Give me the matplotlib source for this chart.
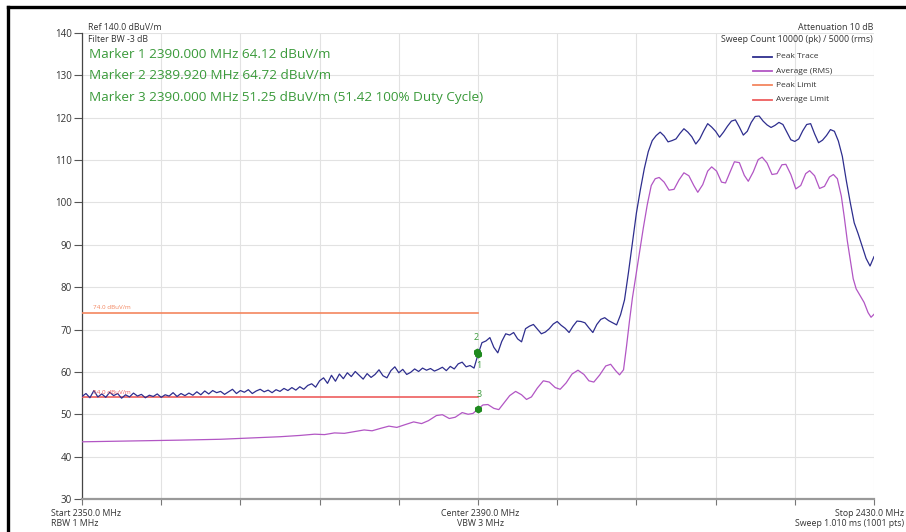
import matplotlib.pyplot as plt
import numpy as np

# peak trace, read every 0.4 MHz from 2350 to 2430
peak_level = [
    54.2, 54.9, 53.9, 55.6, 54.1, 54.8, 54.0, 55.2, 54.4, 54.9,
    53.8, 54.6, 54.1, 55.0, 54.3, 54.7, 53.9, 54.5, 54.2, 54.8,
    54.0, 54.6, 54.3, 55.1, 54.2, 54.9, 54.4, 55.0, 54.5, 55.3,
    54.6, 55.5, 54.8, 55.6, 55.1, 55.4, 54.7, 55.3,
    55.9, 54.9, 55.6, 55.2, 55.8, 54.9, 55.5, 55.9, 55.3, 55.7,
    55.1, 55.8, 55.4, 56.1, 55.6, 56.3, 55.7, 56.5, 55.9, 56.8,
    57.2, 56.4, 57.9, 58.6, 57.3, 59.2, 57.8, 59.5, 58.4, 59.8,
    58.9, 60.1, 59.2, 58.3, 59.6, 58.7, 59.4, 60.5, 59.1, 58.6,
    60.3, 61.2, 59.8, 60.6, 59.4, 59.9, 60.7, 60.1, 60.9, 60.4,
    60.8, 60.2, 60.6, 61.1, 60.3, 61.3, 60.7, 61.9, 62.3, 61.2,
    61.5, 60.9, 64.1, 66.9, 67.3, 68.1, 65.8, 64.5, 67.2, 69.0,
    68.7, 69.3, 67.8, 67.1, 70.2, 70.8, 71.2, 70.1, 69.0, 69.4,
    70.2, 71.3, 71.9, 71.0, 70.3, 69.3, 70.8, 72.0, 71.9, 71.6,
    70.4, 69.3, 71.2, 72.4, 72.8, 72.1, 71.6, 71.1, 73.5, 77.0,
    83.5, 90.5, 97.5, 103.0, 108.0, 112.0, 114.6, 115.8, 116.6, 115.7,
    114.3, 114.6, 115.0, 116.3, 117.4, 116.6, 115.5, 113.8, 115.0, 116.9,
    118.6, 117.8, 116.8, 115.4, 116.6, 118.0, 119.2, 119.5, 117.8, 115.9,
    116.8, 118.9, 120.3, 120.4, 119.2, 118.3, 117.7, 118.2, 118.9, 118.4,
    116.6, 114.8, 114.4, 115.0, 116.9, 118.4, 118.6, 116.2, 114.1, 114.7,
    115.8, 117.2, 116.8, 114.5, 110.9, 105.2, 100.0, 95.2, 92.6, 89.7,
    86.8, 85.0, 87.2,
]
peak_freq = np.linspace(2350, 2430, len(peak_level))

avg_freq = [
    2350.0, 2355.0, 2360.0, 2364.0, 2367.0, 2370.0, 2372.0, 2373.5, 2374.5, 2375.5,
    2376.5, 2377.5, 2378.5, 2379.3, 2380.2, 2381.0, 2381.8, 2382.7, 2383.5, 2384.3,
    2385.0, 2385.8, 2386.4, 2387.1, 2387.7, 2388.4, 2389.0, 2389.5, 2390.0, 2390.5,
    2391.0, 2391.6, 2392.1, 2392.6, 2393.2, 2393.8, 2394.4, 2394.9, 2395.4, 2396.0,
    2396.6, 2397.2, 2397.8, 2398.3, 2398.9, 2399.5, 2400.1, 2400.7, 2401.2, 2401.7,
    2402.3, 2402.9, 2403.4, 2403.9, 2404.3, 2404.7, 2405.0, 2405.3, 2405.6, 2405.9,
    2406.3, 2406.7, 2407.1, 2407.5, 2407.9, 2408.3, 2408.8, 2409.3, 2409.8, 2410.3,
    2410.8, 2411.3, 2411.8, 2412.2, 2412.7, 2413.2, 2413.6, 2414.1, 2414.6, 2415.0,
    2415.5, 2415.9, 2416.4, 2416.9, 2417.3, 2417.8, 2418.3, 2418.7, 2419.2, 2419.7,
    2420.2, 2420.7, 2421.1, 2421.6, 2422.1, 2422.6, 2423.1, 2423.5, 2424.0, 2424.5,
    2425.0, 2425.5, 2425.9, 2426.3, 2426.7, 2427.0, 2427.3, 2427.6, 2427.9, 2428.2,
    2428.6, 2429.0, 2429.4, 2429.7, 2430.0,
]
avg_level = [
    43.5, 43.7, 43.9, 44.1, 44.4, 44.7, 45.0, 45.3, 45.2, 45.6,
    45.5, 45.9, 46.3, 46.1, 46.7, 47.2, 46.9, 47.6, 48.2, 47.8,
    48.5, 49.7, 49.9, 49.0, 49.3, 50.4, 50.0, 50.2, 51.25, 52.2,
    52.3, 51.4, 51.1, 52.6, 54.4, 55.4, 54.6, 53.5, 54.1, 56.2,
    57.9, 57.6, 56.3, 55.9, 57.4, 59.5, 60.4, 59.4, 57.9, 57.6,
    59.3, 61.4, 61.8, 60.3, 59.3, 60.5, 66.0, 72.0, 77.5, 82.0,
    88.0, 94.0, 99.5, 104.0, 105.6, 105.9, 104.8, 102.9, 103.1, 105.3,
    107.0, 106.3, 104.0, 102.4, 104.2, 107.4, 108.4, 107.4, 104.8, 104.6,
    107.4, 109.6, 109.4, 106.4, 105.0, 107.2, 110.1, 110.7, 109.3, 106.6,
    106.8, 108.9, 109.0, 106.6, 103.2, 104.0, 106.8, 107.5, 106.3, 103.3,
    103.8, 106.0, 106.6, 105.6, 101.5, 96.5, 91.0, 86.5, 82.0, 79.6,
    78.0, 76.4, 74.0, 72.9, 73.6,
]

peak_limit = 74.0
avg_limit = 54.0
limit_span = [2350, 2390]

marker_freq = [2390.000, 2389.920, 2390.000]
marker_level = [64.12, 64.72, 51.25]
marker_names = ["1", "2", "3"]
marker_texts = [
    "Marker 1 2390.000 MHz 64.12 dBuV/m",
    "Marker 2 2389.920 MHz 64.72 dBuV/m",
    "Marker 3 2390.000 MHz 51.25 dBuV/m (51.42 100% Duty Cycle)",
]

legend_names = ["Peak Trace", "Average (RMS)", "Peak Limit", "Average Limit"]

c_peak = "#2e2e8e"
c_avg = "#b256c4"
c_plim = "#f3865f"
c_alim = "#ee5e5e"
c_mark = "#3a9a3a"
c_txt = "#333333"

plt.rcParams['font.family'] = ['Open Sans', 'DejaVu Sans']

W, H = 906, 532
fig = plt.figure(figsize=(W / 100, H / 100), dpi=100)
ax = fig.add_axes([82 / W, 1 - 499 / H, (874 - 82) / W, (499 - 33) / H])


def fx(x):
    return x / W


def fy(y):
    return 1 - y / H


ax.plot(limit_span, [peak_limit, peak_limit], color=c_plim, lw=1.2, zorder=3)
ax.plot(limit_span, [avg_limit, avg_limit], color=c_alim, lw=1.2, zorder=3)
ax.plot(peak_freq, peak_level, color=c_peak, lw=0.9, zorder=4)
ax.plot(avg_freq, avg_level, color=c_avg, lw=0.9, zorder=4)

ax.text(2351.1, peak_limit + 0.5, "74.0 dBuV/m", color=c_plim, fontsize=4.5, va="bottom")
ax.text(2351.1, avg_limit + 0.5, "54.0 dBuV/m", color=c_alim, fontsize=4.5, va="bottom", zorder=5)

ax.scatter(marker_freq, marker_level, s=22, marker="h", color="#1f8a1f", zorder=6)
ax.text(marker_freq[0] + 0.1, marker_level[0] - 2.5, marker_names[0], color=c_mark, fontsize=6.5, ha="center", va="center")
ax.text(marker_freq[1] - 0.1, marker_level[1] + 3.5, marker_names[1], color=c_mark, fontsize=6.5, ha="center", va="center")
ax.text(marker_freq[2] + 0.1, marker_level[2] + 3.5, marker_names[2], color=c_mark, fontsize=6.5, ha="center", va="center")

ax.set_xlim(2350, 2430)
ax.set_ylim(30, 140)
ax.set_xticks(np.arange(2350, 2431, 8))
ax.set_xticklabels([])
ax.set_yticks(np.arange(30, 141, 10))
ax.tick_params(axis="y", direction="out", length=6, width=0.8, colors="#555555", labelsize=7, labelcolor=c_txt, pad=1.5)
ax.tick_params(axis="x", direction="out", length=4, width=0.8, colors="#777777")
ax.grid(color="#e2e2e2", lw=0.8)
ax.set_axisbelow(True)
for s in ["top", "right"]:
    ax.spines[s].set_visible(False)
ax.spines["left"].set_color("#444444")
ax.spines["left"].set_linewidth(0.9)
ax.spines["bottom"].set_color("#999999")
ax.spines["bottom"].set_linewidth(1.6)

# header texts
fig.text(fx(88), fy(28), "Ref 140.0 dBuV/m", fontsize=6.3, color=c_txt, va="center")
fig.text(fx(88), fy(39), "Filter BW -3 dB", fontsize=6.3, color=c_txt, va="center")
fig.text(fx(873), fy(28), "Attenuation 10 dB", fontsize=6.4, color=c_txt, va="center", ha="right")
fig.text(fx(873), fy(39), "Sweep Count 10000 (pk) / 5000 (rms)", fontsize=6.4, color=c_txt, va="center", ha="right")

for i, t in enumerate(marker_texts):
    fig.text(fx(89), fy(54 + 21.5 * i), t, fontsize=9.7, color=c_mark, va="center")

# legend drawn by hand
leg_colors = [c_peak, c_avg, c_plim, c_alim]
for i, (name, c) in enumerate(zip(legend_names, leg_colors)):
    y = 57 + 14.2 * i
    fig.add_artist(plt.Line2D([fx(753), fx(772)], [fy(y), fy(y)], color=c, lw=1.3))
    fig.text(fx(776), fy(y), name, fontsize=6, color=c_txt, va="center")

# footer texts
fig.text(fx(51), fy(513), "Start 2350.0 MHz", fontsize=6.3, color=c_txt, va="center")
fig.text(fx(51), fy(524), "RBW 1 MHz", fontsize=6.3, color=c_txt, va="center")
fig.text(fx(480), fy(513), "Center 2390.0 MHz", fontsize=6.3, color=c_txt, va="center", ha="center")
fig.text(fx(480), fy(524), "VBW 3 MHz", fontsize=6.3, color=c_txt, va="center", ha="center")
fig.text(fx(904), fy(513), "Stop 2430.0 MHz", fontsize=6.3, color=c_txt, va="center", ha="right")
fig.text(fx(904), fy(524), "Sweep 1.010 ms (1001 pts)", fontsize=6.3, color=c_txt, va="center", ha="right")

# screenshot frame on top and left
fig.add_artist(plt.Line2D([fx(7.5), 1], [fy(7), fy(7)], color="black", lw=2.4))
fig.add_artist(plt.Line2D([fx(7.5), fx(7.5)], [fy(7), 0], color="black", lw=2.4))

fig.savefig("out.png", dpi=100)
